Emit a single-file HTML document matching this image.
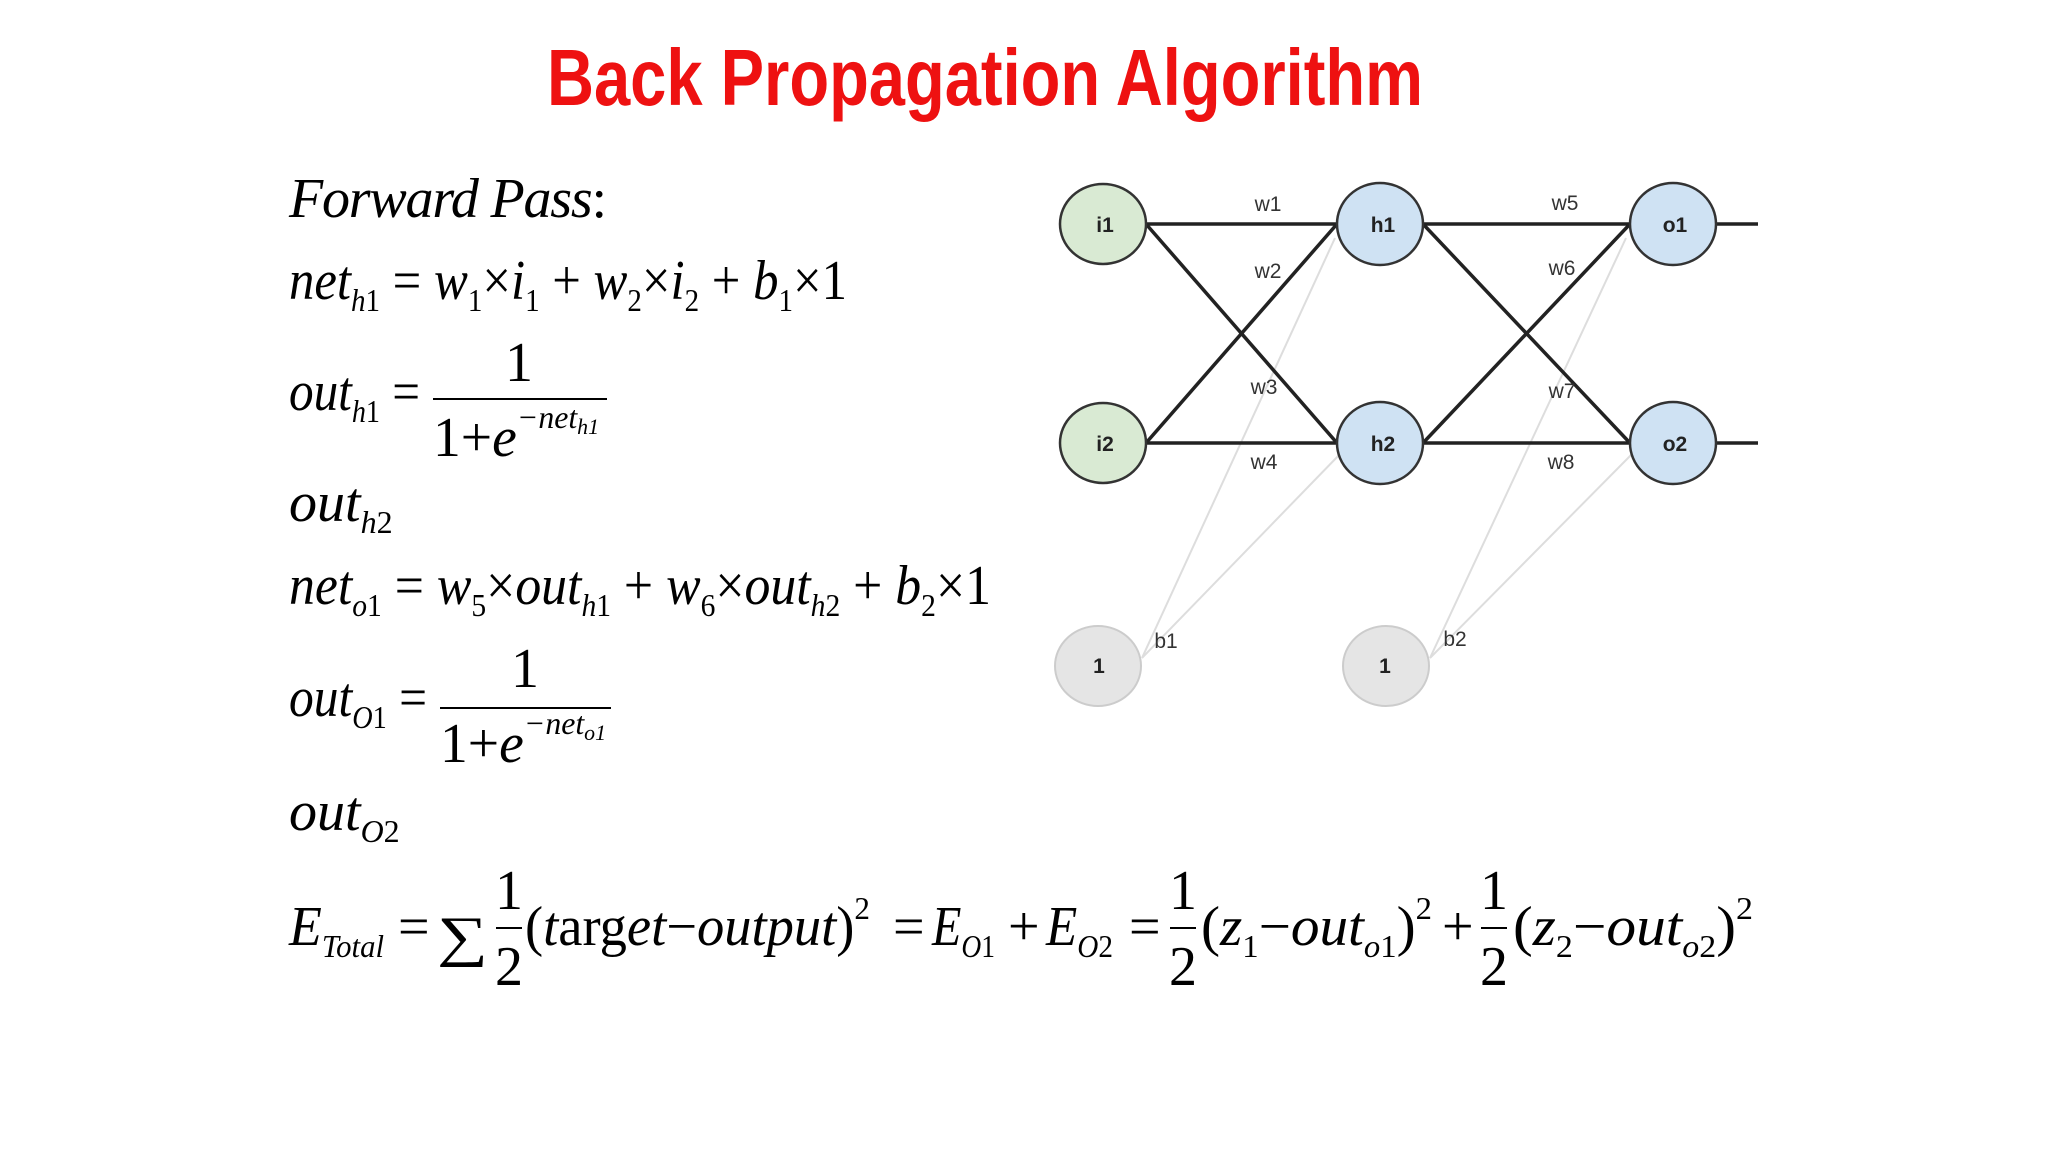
<!DOCTYPE html>
<html><head><meta charset="utf-8"><style>
html,body{margin:0;padding:0;background:#fff;}
svg{display:block;}
.m{font-family:"Liberation Serif",serif;font-style:italic;font-size:56px;fill:#000;}
.r{font-style:normal;}
.s{font-size:32px;}
.n{font-family:"Liberation Sans",sans-serif;font-weight:bold;font-size:21px;fill:#222;text-anchor:middle;}
.l{font-family:"Liberation Sans",sans-serif;font-size:21px;fill:#333;text-anchor:middle;}
</style></head><body>
<svg width="2048" height="1152" viewBox="0 0 2048 1152" xmlns="http://www.w3.org/2000/svg">
<rect width="2048" height="1152" fill="#fff"/>
<text x="547" y="105" textLength="876" lengthAdjust="spacingAndGlyphs" font-family="Liberation Sans, sans-serif" font-weight="bold" font-size="80" fill="#ee1111">Back Propagation Algorithm</text>

<!-- network -->
<g stroke="#ddd" stroke-width="2">
<line x1="1142" y1="658" x2="1335" y2="238"/>
<line x1="1142" y1="658" x2="1342" y2="452"/>
<line x1="1430" y1="658" x2="1626" y2="238"/>
<line x1="1430" y1="658" x2="1634" y2="452"/>
</g>
<g stroke="#222" stroke-width="3.5">
<line x1="1146" y1="224" x2="1337" y2="224"/>
<line x1="1146" y1="224" x2="1337" y2="443"/>
<line x1="1146" y1="443" x2="1337" y2="224"/>
<line x1="1146" y1="443" x2="1337" y2="443"/>
<line x1="1423" y1="224" x2="1630" y2="224"/>
<line x1="1423" y1="224" x2="1630" y2="443"/>
<line x1="1423" y1="443" x2="1630" y2="224"/>
<line x1="1423" y1="443" x2="1630" y2="443"/>
<line x1="1716" y1="224" x2="1758" y2="224"/>
<line x1="1716" y1="443" x2="1758" y2="443"/>
</g>
<g stroke="#333" stroke-width="2.5">
<ellipse cx="1103" cy="224" rx="43" ry="40" fill="#d9ead3"/>
<ellipse cx="1103" cy="443" rx="43" ry="40" fill="#d9ead3"/>
<ellipse cx="1380" cy="224" rx="43" ry="41" fill="#cfe2f3"/>
<ellipse cx="1380" cy="443" rx="43" ry="41" fill="#cfe2f3"/>
<ellipse cx="1673" cy="224" rx="43" ry="41" fill="#cfe2f3"/>
<ellipse cx="1673" cy="443" rx="43" ry="41" fill="#cfe2f3"/>
</g>
<g stroke="#ccc" stroke-width="2" fill="#e5e5e5">
<ellipse cx="1098" cy="666" rx="43" ry="40"/>
<ellipse cx="1386" cy="666" rx="43" ry="40"/>
</g>
<text class="n" x="1105" y="232">i1</text>
<text class="n" x="1105" y="451">i2</text>
<text class="n" x="1383" y="232">h1</text>
<text class="n" x="1383" y="451">h2</text>
<text class="n" x="1675" y="232">o1</text>
<text class="n" x="1675" y="451">o2</text>
<text class="n" x="1099" y="673">1</text>
<text class="n" x="1385" y="673">1</text>
<text class="l" x="1268" y="211">w1</text>
<text class="l" x="1268" y="278">w2</text>
<text class="l" x="1264" y="394">w3</text>
<text class="l" x="1264" y="469">w4</text>
<text class="l" x="1565" y="210">w5</text>
<text class="l" x="1562" y="275">w6</text>
<text class="l" x="1562" y="398">w7</text>
<text class="l" x="1561" y="469">w8</text>
<text class="l" x="1166" y="648">b1</text>
<text class="l" x="1455" y="646">b2</text>

<!-- equations -->
<text class="m" x="289" y="217" textLength="318" lengthAdjust="spacing">Forward  Pass<tspan class="r">:</tspan></text>

<text class="m" x="289" y="299" textLength="558" lengthAdjust="spacingAndGlyphs">net<tspan class="s" dy="12">h</tspan><tspan class="s r">1</tspan><tspan class="r" dy="-12"> = </tspan>w<tspan class="s r" dy="12">1</tspan><tspan class="r" dy="-12">×</tspan>i<tspan class="s r" dy="12">1</tspan><tspan class="r" dy="-12"> + </tspan>w<tspan class="s r" dy="12">2</tspan><tspan class="r" dy="-12">×</tspan>i<tspan class="s r" dy="12">2</tspan><tspan class="r" dy="-12"> + </tspan>b<tspan class="s r" dy="12">1</tspan><tspan class="r" dy="-12">×1</tspan></text>

<text class="m" x="289" y="410" textLength="131" lengthAdjust="spacingAndGlyphs">out<tspan class="s" dy="12">h</tspan><tspan class="s r">1</tspan><tspan class="r" dy="-12"> =</tspan></text>
<text class="m r" x="519" y="381" text-anchor="middle">1</text>
<line x1="433" y1="399" x2="607" y2="399" stroke="#000" stroke-width="2"/>
<text class="m" x="433" y="456" textLength="166" lengthAdjust="spacingAndGlyphs"><tspan class="r">1+</tspan>e<tspan class="s" dy="-28">−net</tspan><tspan dy="6" font-size="22">h1</tspan></text>

<text class="m" x="289" y="521">out<tspan class="s" dy="12">h</tspan><tspan class="s r">2</tspan></text>

<text class="m" x="289" y="604" textLength="702" lengthAdjust="spacingAndGlyphs">net<tspan class="s" dy="12">o</tspan><tspan class="s r">1</tspan><tspan class="r" dy="-12"> = </tspan>w<tspan class="s r" dy="12">5</tspan><tspan class="r" dy="-12">×</tspan>out<tspan class="s" dy="12">h</tspan><tspan class="s r">1</tspan><tspan class="r" dy="-12"> + </tspan>w<tspan class="s r" dy="12">6</tspan><tspan class="r" dy="-12">×</tspan>out<tspan class="s" dy="12">h</tspan><tspan class="s r">2</tspan><tspan class="r" dy="-12"> + </tspan>b<tspan class="s r" dy="12">2</tspan><tspan class="r" dy="-12">×1</tspan></text>

<text class="m" x="289" y="716" textLength="138" lengthAdjust="spacingAndGlyphs">out<tspan class="s" dy="12">O</tspan><tspan class="s r">1</tspan><tspan class="r" dy="-12"> =</tspan></text>
<text class="m r" x="525" y="687" text-anchor="middle">1</text>
<line x1="440" y1="708" x2="611" y2="708" stroke="#000" stroke-width="2"/>
<text class="m" x="440" y="762" textLength="166" lengthAdjust="spacingAndGlyphs"><tspan class="r">1+</tspan>e<tspan class="s" dy="-28">−net</tspan><tspan dy="6" font-size="22">o1</tspan></text>

<text class="m" x="289" y="830">out<tspan class="s" dy="12">O</tspan><tspan class="s r">2</tspan></text>

<!-- E total -->
<text class="m" x="289" y="945" textLength="95" lengthAdjust="spacingAndGlyphs">E<tspan class="s" dy="12">Total</tspan></text>
<text class="m r" x="398" y="945">=</text>
<text class="m r" x="437" y="955" font-size="96" textLength="51" lengthAdjust="spacingAndGlyphs">∑</text>
<text class="m r" x="509" y="909" text-anchor="middle">1</text>
<line x1="496" y1="928" x2="522" y2="928" stroke="#000" stroke-width="2"/>
<text class="m r" x="509" y="985" text-anchor="middle">2</text>
<text class="m" x="525" y="945" textLength="345" lengthAdjust="spacingAndGlyphs"><tspan class="r">(</tspan>t<tspan class="r">arg</tspan>et<tspan class="r">−</tspan>output<tspan class="r">)</tspan><tspan class="s r" dy="-26">2</tspan></text>
<text class="m r" x="893" y="945">=</text>
<text class="m" x="932" y="945" textLength="63" lengthAdjust="spacingAndGlyphs">E<tspan class="s" dy="12">O</tspan><tspan class="s r">1</tspan></text>
<text class="m r" x="1008" y="945">+</text>
<text class="m" x="1046" y="945" textLength="67" lengthAdjust="spacingAndGlyphs">E<tspan class="s" dy="12">O</tspan><tspan class="s r">2</tspan></text>
<text class="m r" x="1129" y="945">=</text>
<text class="m r" x="1183" y="909" text-anchor="middle">1</text>
<line x1="1170" y1="928" x2="1196" y2="928" stroke="#000" stroke-width="2"/>
<text class="m r" x="1183" y="985" text-anchor="middle">2</text>
<text class="m" x="1201" y="945" textLength="231" lengthAdjust="spacingAndGlyphs"><tspan class="r">(</tspan>z<tspan class="s r" dy="12">1</tspan><tspan class="r" dy="-12">−</tspan>out<tspan class="s" dy="12">o</tspan><tspan class="s r">1</tspan><tspan class="r" dy="-12">)</tspan><tspan class="s r" dy="-26">2</tspan></text>
<text class="m r" x="1442" y="945">+</text>
<text class="m r" x="1494" y="909" text-anchor="middle">1</text>
<line x1="1481" y1="928" x2="1507" y2="928" stroke="#000" stroke-width="2"/>
<text class="m r" x="1494" y="985" text-anchor="middle">2</text>
<text class="m" x="1513" y="945" textLength="240" lengthAdjust="spacingAndGlyphs"><tspan class="r">(</tspan>z<tspan class="s r" dy="12">2</tspan><tspan class="r" dy="-12">−</tspan>out<tspan class="s" dy="12">o</tspan><tspan class="s r">2</tspan><tspan class="r" dy="-12">)</tspan><tspan class="s r" dy="-26">2</tspan></text>
</svg>
</body></html>
